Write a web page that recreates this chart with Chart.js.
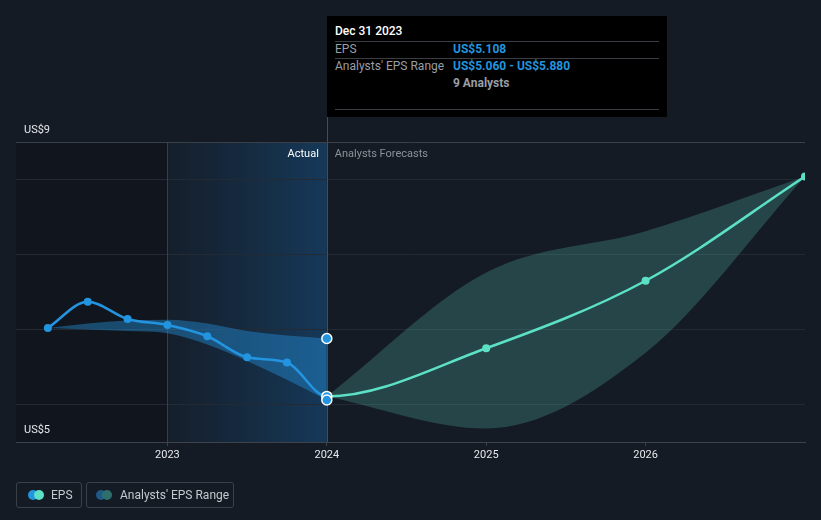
<!DOCTYPE html>
<html>
<head>
<meta charset="utf-8">
<script src="https://cdn.jsdelivr.net/npm/chart.js@4.4.1/dist/chart.umd.min.js"></script>
<style>
  html, body { margin:0; padding:0; background:#151b24; }
  #wrap { position:relative; width:821px; height:520px; overflow:hidden; font-family: Roboto, "Noto Sans", sans-serif; }
  canvas { position:absolute; left:0; top:0; }
  .tip { position:absolute; left:327px; top:16px; width:340px; height:101px; background:#000; }
  .tip .t { position:absolute; font-size:12px; line-height:14px; white-space:nowrap; }
  .tip .sep { position:absolute; left:8px; width:324px; height:1px; background:#3a3d42; }
  .lg { position:absolute; top:482px; height:26px; border:1px solid #3b4049; border-radius:3px; box-sizing:border-box; }
  .lg .d { position:absolute; top:7px; width:10px; height:10px; border-radius:50%; }
  .lg .l { position:absolute; top:5px; font-size:12px; line-height:14px; color:#c5c9cf; white-space:nowrap; }
</style>
</head>
<body>
<div id="wrap">
  <canvas id="c" width="821" height="520"></canvas>
  <div class="tip">
    <div class="t" style="left:8px;top:8px;color:#fff;font-weight:500;">Dec 31 2023</div>
    <div class="sep" style="top:25px"></div>
    <div class="t" style="left:8px;top:26px;color:#9a9ea5;">EPS</div>
    <div class="t" style="left:126px;top:26px;color:#2394df;font-weight:bold;">US$5.108</div>
    <div class="sep" style="top:42px"></div>
    <div class="t" style="left:8px;top:43px;color:#9a9ea5;">Analysts' EPS Range</div>
    <div class="t" style="left:126px;top:43px;color:#2394df;font-weight:bold;">US$5.060 - US$5.880</div>
    <div class="t" style="left:126px;top:60px;color:#9a9ea5;font-weight:bold;">9 Analysts</div>
    <div class="sep" style="top:93px"></div>
  </div>
  <div class="lg" style="left:16px;width:66px;">
    <div class="d" style="left:11px;background:#2394df;"></div>
    <div class="d" style="left:17px;background:#5ce1c6;"></div>
    <div class="l" style="left:34px;">EPS</div>
  </div>
  <div class="lg" style="left:86px;width:148px;">
    <div class="d" style="left:9px;background:#1d5a85;"></div>
    <div class="d" style="left:15px;background:#2f6f6b;"></div>
    <div class="l" style="left:33px;">Analysts' EPS Range</div>
  </div>
</div>
<script>
// ---- data (x in fractional years; Dec 31 = next year .0) ----
const actualX      = [2022.25, 2022.5, 2022.75, 2023.0, 2023.25, 2023.5, 2023.75, 2024.0];
const actualEPS    = [6.02, 6.37, 6.14, 6.06, 5.91, 5.63, 5.56, 5.108];
const actualHigh   = [6.02, 6.08, 6.12, 6.13, 6.08, 5.98, 5.92, 5.88];
const actualLow    = [6.02, 6.00, 5.98, 5.95, 5.80, 5.58, 5.33, 5.06];
const forecastYears = [2025.0, 2026.0, 2027.0];
const forecastEPS  = [5.75, 6.65, 8.04];
const bandX        = [2024.0, 2025.0, 2026.0, 2027.0];
const forecastHigh = [5.108, 6.76, 7.31, 8.04];
const forecastLow  = [5.108, 4.68, 5.69, 8.04];
const xTicks       = [2023, 2024, 2025, 2026];
const yGrid        = [5, 6, 7, 8];
const yLabels      = ['US$9', 'US$5'];

const pts = (xs, ys) => xs.map((x, i) => ({ x, y: ys[i] }));
const lastIdx = actualX.length - 1;
const epsX = actualX.concat(forecastYears);
const epsY = actualEPS.concat(forecastEPS);
const BLUE = '#2394df', TEAL = '#5ce1c6';

const bgPlugin = {
  id: 'bg',
  beforeDraw(chart) {
    const { ctx, chartArea: a, scales: { x } } = chart;
    const x23 = x.getPixelForValue(2023), x24 = x.getPixelForValue(2024);
    ctx.save();
    ctx.fillStyle = 'rgba(0,0,0,0.16)';
    ctx.fillRect(a.left, a.top, x23 - a.left, a.bottom - a.top);
    const g = ctx.createLinearGradient(x23, 0, x24, 0);
    g.addColorStop(0, 'rgba(25,100,165,0.06)');
    g.addColorStop(1, 'rgba(25,110,185,0.36)');
    ctx.fillStyle = g;
    ctx.fillRect(x23, a.top, x24 - x23, a.bottom - a.top);
    ctx.restore();
  },
  afterDraw(chart) {
    const { ctx, chartArea: a, scales: { x } } = chart;
    ctx.save();
    ctx.strokeStyle = '#3a3f48';
    ctx.lineWidth = 1;
    ctx.beginPath(); ctx.moveTo(a.left, a.top + 0.5); ctx.lineTo(a.right, a.top + 0.5); ctx.stroke();
    ctx.fillStyle = '#e6e8eb';
    ctx.font = '11px Roboto';
    ctx.textBaseline = 'middle';
    ctx.textAlign = 'left';
    ctx.fillText(yLabels[0], a.left + 8, a.top - 12);
    ctx.fillText(yLabels[1], a.left + 8, a.bottom - 12);
    const x24 = x.getPixelForValue(2024);
    ctx.textAlign = 'right';
    ctx.fillStyle = '#ffffff';
    ctx.fillText('Actual', x24 - 8, a.top + 12);
    ctx.textAlign = 'left';
    ctx.fillStyle = '#8c9199';
    ctx.fillText('Analysts Forecasts', x24 + 8, a.top + 12);
    ctx.restore();
  },
  beforeDatasetsDraw(chart) {
    const { ctx, chartArea: a, scales: { x } } = chart;
    const x23 = Math.round(x.getPixelForValue(2023)) + 0.5, x24 = Math.round(x.getPixelForValue(2024)) + 0.5;
    ctx.save();
    ctx.lineWidth = 1;
    ctx.strokeStyle = 'rgba(25,85,140,0.75)';
    ctx.beginPath(); ctx.moveTo(x23, a.top); ctx.lineTo(x23, a.bottom); ctx.stroke();
    ctx.strokeStyle = 'rgba(70,120,160,0.6)';
    ctx.beginPath(); ctx.moveTo(x24, 117); ctx.lineTo(x24, a.bottom); ctx.stroke();
    ctx.restore();
  }
};

const hover = (r) => (c) => c.dataIndex === lastIdx ? r : 0;
const isFc = (c) => c.dataIndex > lastIdx;

new Chart(document.getElementById('c'), {
  type: 'line',
  data: {
    datasets: [
      { data: pts(actualX, actualHigh), order: 3, fill: 1, backgroundColor: 'rgba(35,148,223,0.42)',
        borderWidth: 0, borderColor: 'transparent', cubicInterpolationMode: 'monotone',
        pointRadius: hover(5), pointBackgroundColor: BLUE, pointBorderColor: '#ffffff', pointBorderWidth: 1.5 },
      { data: pts(actualX, actualLow), order: 0, fill: false,
        borderWidth: 0, borderColor: 'transparent', cubicInterpolationMode: 'monotone',
        pointRadius: hover(5), pointBackgroundColor: BLUE, pointBorderColor: '#ffffff', pointBorderWidth: 1.5 },
      { data: pts(epsX, epsY), order: 1, fill: false,
        borderWidth: 2.5, borderColor: BLUE, cubicInterpolationMode: 'monotone',
        segment: { borderColor: (s) => s.p0.parsed.x >= 2024 ? TEAL : BLUE },
        pointRadius: (c) => c.dataIndex === lastIdx ? 5 : 4,
        pointBackgroundColor: (c) => isFc(c) ? TEAL : BLUE,
        pointBorderColor: (c) => c.dataIndex === lastIdx ? '#ffffff' : (isFc(c) ? TEAL : BLUE),
        pointBorderWidth: (c) => c.dataIndex === lastIdx ? 1.5 : 0 },
      { data: pts(bandX, forecastHigh), order: 5, fill: 4,
        backgroundColor: 'rgba(80,185,175,0.27)',
        borderWidth: 0, borderColor: 'transparent', cubicInterpolationMode: 'monotone', pointRadius: 0 },
      { data: pts(bandX, forecastLow), order: 4, fill: false,
        borderWidth: 0, borderColor: 'transparent', cubicInterpolationMode: 'monotone', pointRadius: 0 }
    ]
  },
  options: {
    responsive: false,
    animation: false,
    events: [],
    layout: { padding: { left: 0, right: 16, top: 142, bottom: 0 } },
    plugins: { legend: { display: false }, tooltip: { enabled: false } },
    scales: {
      x: {
        type: 'linear', min: 2022.05, max: 2027.0,
        afterBuildTicks: (s) => { s.ticks = xTicks.map(v => ({ value: v })); },
        afterFit: (s) => { s.height = 78; },
        ticks: { color: '#e6e8eb', font: { family: 'Roboto', size: 11 }, padding: 3, maxRotation: 0,
                 callback: (v) => String(v) },
        grid: { drawOnChartArea: false, tickLength: 4, color: '#3d424b' },
        border: { color: '#3d424b', width: 1 }
      },
      y: {
        min: 4.5, max: 8.5,
        afterBuildTicks: (s) => { s.ticks = yGrid.map(v => ({ value: v })); },
        afterFit: (s) => { s.width = 16; },
        ticks: { display: false },
        grid: { color: '#242a34', drawTicks: false },
        border: { display: false }
      }
    }
  },
  plugins: [bgPlugin]
});
</script>
</body>
</html>
